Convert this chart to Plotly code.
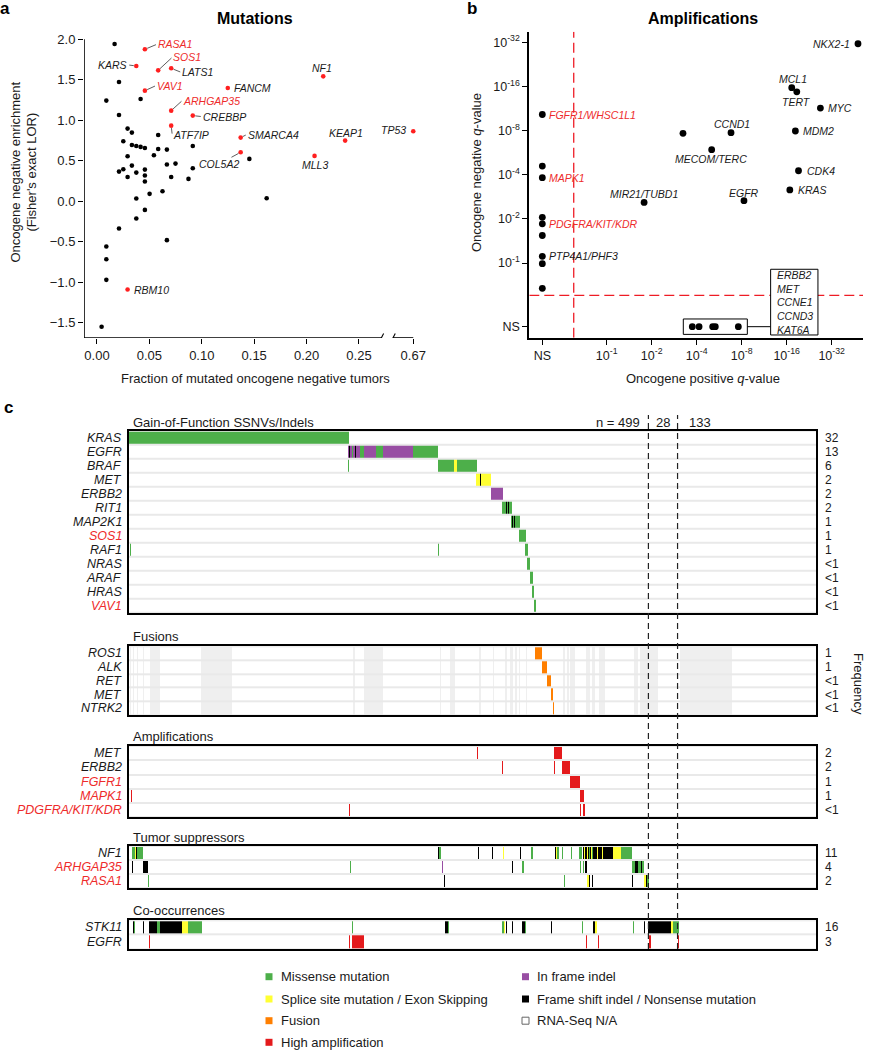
import math
import numpy as np
import plotly.graph_objects as go

W, H = 872, 1050
FONT = "Liberation Sans, Arial, Helvetica, sans-serif"
INK = "#1a1a1a"
RED_TEXT = "#ee2b2b"
RED_DOT = "#ff1f1f"


def fx(p):
    return p / W


def fy(p):
    return 1 - p / H


# ---------------- Panel a: Mutations (data) ----------------
a_genes = ["RASA1", "SOS1", "KARS", "LATS1", "VAV1", "FANCM", "NF1", "ARHGAP35",
           "CREBBP", "ATF7IP", "SMARCA4", "COL5A2", "KEAP1", "MLL3", "TP53", "RBM10"]
a_frac = [0.0457, 0.0584, 0.0375, 0.0708, 0.0457, 0.1248, 0.2159, 0.0708,
          0.0914, 0.0708, 0.1371, 0.1371, 0.2368, 0.2076, 0.67, 0.0292]
a_lor = [1.877, 1.617, 1.671, 1.642, 1.366, 1.399, 1.543, 1.119,
         1.058, 0.934, 0.786, 0.605, 0.749, 0.560, 0.864, -1.091]
a_red_names = ["RASA1", "SOS1", "VAV1", "ARHGAP35"]

a_other_frac = [0.0168, 0.0210, 0.0089, 0.0416, 0.0210, 0.0292, 0.0333, 0.0251, 0.0333, 0.0375,
                0.0416, 0.0457, 0.0584, 0.0584, 0.0667, 0.0914, 0.0292, 0.0543, 0.0210, 0.0251,
                0.0292, 0.0333, 0.0375, 0.0457, 0.0457, 0.0457, 0.0667, 0.0749, 0.0708, 0.0914,
                0.0873, 0.1454, 0.0502, 0.0625, 0.0375, 0.0457, 0.0375, 0.0210, 0.0667, 0.0089,
                0.0089, 0.0089, 0.0044, 0.1619]
a_other_lor = [1.942, 1.473, 1.243, 1.263, 1.066, 0.897, 0.848, 0.741, 0.695, 0.683,
               0.671, 0.658, 0.819, 0.646, 0.638, 0.683, 0.556, 0.568, 0.366, 0.395,
               0.300, 0.440, 0.354, 0.391, 0.317, 0.243, 0.453, 0.465, 0.300, 0.407,
               0.276, 0.523, 0.091, 0.123, 0.033, -0.107, -0.214, -0.337, -0.481, -0.560,
               -0.716, -0.971, -1.551, 0.037]

a_xticks = [0.00, 0.05, 0.10, 0.15, 0.20, 0.25, 0.67]
a_xticklabels = ["0.00", "0.05", "0.10", "0.15", "0.20", "0.25", "0.67"]
a_yticks = [2.0, 1.5, 1.0, 0.5, 0.0, -0.5, -1.0, -1.5]

# ---------------- Panel b: Amplifications (data) ----------------
# -log10(q); None = not significant (NS)
b_genes = ["NKX2-1", "MCL1", "TERT", "MYC", "MDM2", "CDK4", "KRAS", "EGFR", "CCND1",
           "MECOM/TERC", "MIR21/TUBD1", "FGFR1/WHSC1L1", "MAPK1", "PDGFRA/KIT/KDR", "PTP4A1/PHF3",
           "", "", "", "", "", "", "ERBB2", "MET", "CCNE1", "CCND3", "KAT6A"]
b_pos = [48.0, 17.3, 18.7, 26.9, 18.3, 19.2, 16.8, 8.29, 6.79,
         5.04, 1.78, None, None, None, None,
         3.24, None, None, None, None, None, 3.74, 4.15, 5.12, 5.33, 7.6]
b_neg = [31.3, 15.7, 14.7, 11.4, 7.95, 4.26, 3.15, 2.66, 7.74,
         5.93, 2.59, 10.3, 3.82, 1.85, 1.11,
         7.66, 4.58, 2.05, 1.54, 0.99, 0.672, None, None, None, None, None]
b_red_names = ["FGFR1/WHSC1L1", "MAPK1", "PDGFRA/KIT/KDR"]
b_boxed_names = ["ERBB2", "MET", "CCNE1", "CCND3", "KAT6A"]
b_tick_exps = [1, 2, 4, 8, 16, 32]
b_q_threshold = 0.25

# ---------------- Panel c: oncoprint (data) ----------------
group_sizes = [499, 28, 133]
N = sum(group_sizes)

gof_genes = ["KRAS", "EGFR", "BRAF", "MET", "ERBB2", "RIT1", "MAP2K1", "SOS1", "RAF1",
             "NRAS", "ARAF", "HRAS", "VAV1"]
gof_freq = ["32", "13", "6", "2", "2", "2", "1", "1", "1", "<1", "<1", "<1", "<1"]
gof_rows = [
    [(0, 210, "M")],
    [(210, 213, "I"), (211, 211, "T"), (214, 214, "M"), (215, 221, "I"), (217, 217, "T"),
     (222, 225, "M"), (226, 236, "I"), (237, 243, "M"), (244, 272, "I"), (273, 296, "M")],
    [(210, 210, "M"), (297, 311, "M"), (312, 314, "S"), (315, 333, "M")],
    [(333, 347, "S"), (337, 337, "T")],
    [(348, 358, "I")],
    [(358, 367, "M"), (362, 362, "T"), (364, 364, "T")],
    [(367, 375, "M"), (368, 368, "T"), (370, 370, "T")],
    [(375, 380, "M")],
    [(1, 1, "M"), (297, 297, "M"), (380, 382, "M")],
    [(382, 384, "M")],
    [(385, 387, "M")],
    [(387, 388, "M")],
    [(389, 390, "M")],
]

fus_genes = ["ROS1", "ALK", "RET", "MET", "NTRK2"]
fus_freq = ["1", "1", "<1", "<1", "<1"]
fus_rows = [
    [(390, 396, "F")],
    [(397, 401, "F")],
    [(402, 404, "F")],
    [(405, 406, "F")],
    [(407, 407, "F")],
]
rnaseq_na = [(1, 1), (4, 4), (8, 8), (13, 13), (20, 29), (69, 98), (215, 216), (226, 243),
             (299, 299), (308, 312), (336, 337), (350, 350), (361, 362), (366, 368), (371, 372),
             (375, 375), (381, 381), (417, 418), (421, 422), (424, 427), (439, 442), (445, 447),
             (452, 456), (485, 488), (491, 507), (529, 578)]

amp_genes = ["MET", "ERBB2", "FGFR1", "MAPK1", "PDGFRA/KIT/KDR"]
amp_freq = ["2", "2", "1", "1", "<1"]
amp_rows = [
    [(334, 334, "A"), (408, 415, "A")],
    [(358, 358, "A"), (408, 408, "A"), (416, 423, "A")],
    [(424, 432, "A")],
    [(2, 2, "A"), (433, 436, "A")],
    [(211, 211, "A"), (433, 433, "A"), (436, 437, "A")],
]

ts_genes = ["NF1", "ARHGAP35", "RASA1"]
ts_freq = ["11", "4", "2"]
ts_rows = [
    [(3, 5, "M"), (6, 6, "S"), (7, 7, "T"), (8, 12, "M"), (297, 297, "T"), (298, 299, "M"),
     (335, 335, "T"), (349, 349, "T"), (359, 359, "S"), (376, 376, "T"), (386, 387, "M"),
     (409, 409, "T"), (410, 410, "S"), (411, 412, "M"), (416, 416, "M"), (425, 425, "M"),
     (432, 434, "M"), (436, 436, "T"), (437, 437, "S"), (438, 439, "T"), (440, 440, "S"),
     (441, 441, "T"), (442, 442, "M"), (443, 443, "T"), (444, 444, "S"), (445, 445, "M"),
     (446, 449, "T"), (450, 450, "S"), (451, 453, "T"), (454, 454, "S"), (455, 464, "T"),
     (465, 472, "S"), (473, 482, "M")],
    [(3, 3, "T"), (13, 17, "T"), (212, 212, "M"), (301, 301, "I"), (368, 368, "T"),
     (378, 378, "M"), (433, 433, "M"), (436, 436, "M"), (438, 439, "T"), (483, 485, "M"),
     (486, 488, "T"), (489, 491, "M"), (492, 492, "T"), (493, 494, "M")],
    [(18, 18, "M"), (303, 303, "T"), (418, 418, "M"), (440, 441, "S"), (442, 442, "T"),
     (445, 445, "T"), (483, 483, "T"), (495, 496, "S"), (497, 497, "T"), (498, 499, "M")],
]

co_genes = ["STK11", "EGFR"]
co_freq = ["16", "3"]
co_rows = [
    [(4, 4, "T"), (5, 5, "M"), (13, 13, "T"), (19, 26, "T"), (27, 29, "M"), (30, 50, "T"),
     (51, 56, "S"), (57, 69, "M"), (214, 214, "M"), (304, 305, "T"), (306, 306, "M"),
     (358, 359, "M"), (360, 360, "S"), (362, 362, "T"), (368, 368, "T"), (378, 379, "T"),
     (380, 380, "M"), (405, 405, "T"), (435, 435, "M"), (446, 447, "T"), (448, 449, "S"),
     (484, 484, "M"), (495, 495, "T"), (499, 499, "T"), (500, 520, "T"), (521, 522, "S"),
     (523, 527, "M")],
    [(19, 19, "A"), (211, 211, "A"), (214, 225, "A"), (439, 439, "A"), (451, 451, "A"),
     (500, 500, "A"), (527, 527, "A")],
]

red_genes_c = ["SOS1", "VAV1", "FGFR1", "MAPK1", "PDGFRA/KIT/KDR", "ARHGAP35", "RASA1"]

alt_codes = {"": 0, "N": 1, "M": 2, "S": 3, "F": 4, "A": 5, "I": 6, "T": 7}
alt_colors = ["#ffffff", "#efefef", "#4daf4a", "#ffff33", "#ff7f00", "#e41a1c", "#984ea3", "#000000"]

legend_labels = ["Missense mutation", "Splice site mutation / Exon Skipping", "Fusion",
                 "High amplification", "In frame indel", "Frame shift indel / Nonsense mutation",
                 "RNA-Seq N/A"]
legend_codes = ["M", "S", "F", "A", "I", "T", "N"]

# ====================================================================
fig = go.Figure()
annotations = []
shapes = []

# ---------------- Panel a ----------------
A_BREAK_LO, A_BREAK_HI, A_BREAK_POS = 0.27, 0.67, 0.3018


def a_x(v):
    return v if v < A_BREAK_LO else A_BREAK_POS + (v - A_BREAK_HI)


fig.add_trace(go.Scatter(x=[a_x(v) for v in a_other_frac], y=a_other_lor, mode="markers",
                         marker=dict(size=4.6, color="black"), xaxis="x", yaxis="y",
                         hoverinfo="skip"))
fig.add_trace(go.Scatter(x=[a_x(v) for v in a_frac], y=a_lor, mode="markers",
                         marker=dict(size=4.6, color=RED_DOT), xaxis="x", yaxis="y",
                         text=a_genes, hoverinfo="text"))

# label placement: (dx px, dy px (down +), xanchor, leader line)
a_label_pos = {
    "RASA1": (12, -5, "left", True),
    "SOS1": (14, -13, "left", True),
    "KARS": (-8, -1, "right", True),
    "LATS1": (10, 4, "left", True),
    "VAV1": (11, -5, "left", True),
    "FANCM": (4, 0, "left", False),
    "NF1": (-1, -8, "center", False),
    "ARHGAP35": (11, -10, "left", True),
    "CREBBP": (9, 1, "left", True),
    "ATF7IP": (1, 9, "left", True),
    "SMARCA4": (6, -3, "left", True),
    "COL5A2": (-22, 12, "center", True),
    "KEAP1": (1, -8, "center", False),
    "MLL3": (0, 9, "center", False),
    "TP53": (-5, -1, "right", False),
    "RBM10": (4, 0, "left", False),
}
for g, fr, lo in zip(a_genes, a_frac, a_lor):
    dx, dy, xa, leader = a_label_pos[g]
    col = RED_TEXT if g in a_red_names else INK
    font = dict(family=FONT, size=10.5, color=col)
    if leader:
        annotations.append(dict(x=a_x(fr), y=lo, xref="x", yref="y", text="<i>%s</i>" % g,
                                showarrow=True, ax=dx, ay=dy, xanchor=xa, yanchor="middle",
                                arrowhead=0, arrowwidth=0.8, arrowcolor="#333333",
                                standoff=2.5, startstandoff=1, font=font, borderpad=0))
    else:
        annotations.append(dict(x=a_x(fr), y=lo, xref="x", yref="y", text="<i>%s</i>" % g,
                                showarrow=False, xshift=dx, yshift=-dy, xanchor=xa,
                                yanchor="middle", font=font))

A_X0, A_X1 = -0.0124, 0.313
A_Y0, A_Y1 = -1.6895, 2.1153
axis_common = dict(showgrid=False, zeroline=False, ticks="outside", ticklen=5, tickwidth=1,
                   tickcolor="black", tickfont=dict(family=FONT, size=13, color=INK),
                   fixedrange=True)
fig.update_layout(
    xaxis=dict(domain=[fx(84), fx(425)], range=[A_X0, A_X1], anchor="y",
               tickvals=[a_x(v) for v in a_xticks], ticktext=a_xticklabels, showline=False,
               **axis_common),
    yaxis=dict(domain=[fy(338), fy(30)], range=[A_Y0, A_Y1], anchor="x",
               tickvals=a_yticks,
               ticktext=[("%.1f" % v).replace("-", "\u2212") for v in a_yticks],
               showline=False, **axis_common),
)
# axis lines with break
lw = 1.6
shapes.append(dict(type="line", xref="x", yref="y", x0=A_X0, x1=A_X0, y0=A_Y0, y1=2.0,
                   line=dict(color="black", width=lw)))
b1, b2 = 0.2713, 0.2824
shapes.append(dict(type="line", xref="x", yref="y", x0=A_X0, x1=b1, y0=A_Y0, y1=A_Y0,
                   line=dict(color="black", width=lw)))
shapes.append(dict(type="line", xref="x", yref="y", x0=b2, x1=a_x(0.67), y0=A_Y0, y1=A_Y0,
                   line=dict(color="black", width=lw)))
for bx in (b1, b2):
    shapes.append(dict(type="line", xref="x", yref="y", x0=bx - 0.0022, x1=bx + 0.0022,
                       y0=A_Y0 - 0.055, y1=A_Y0 + 0.055, line=dict(color="black", width=1.1)))

annotations += [
    dict(x=fx(5), y=fy(9), xref="paper", yref="paper", text="<b>a</b>", showarrow=False,
         xanchor="center", yanchor="middle", font=dict(family=FONT, size=17, color="black")),
    dict(x=fx(255), y=fy(19), xref="paper", yref="paper", text="<b>Mutations</b>",
         showarrow=False, xanchor="center", yanchor="middle",
         font=dict(family=FONT, size=16, color="black")),
    dict(x=fx(255), y=fy(379), xref="paper", yref="paper",
         text="Fraction of mutated oncogene negative tumors", showarrow=False,
         xanchor="center", yanchor="middle", font=dict(family=FONT, size=13, color=INK)),
    dict(x=fx(23.5), y=fy(172), xref="paper", yref="paper",
         text="Oncogene negative enrichment<br>(Fisher's exact LOR)", showarrow=False,
         textangle=-90, xanchor="center", yanchor="middle",
         font=dict(family=FONT, size=13, color=INK)),
]

# ---------------- Panel b ----------------
B_NS_X, B_NS_Y = -1.43, -1.443


def b_t(v, ns):
    return ns if v is None else math.log2(v)


bx_vals = [b_t(v, B_NS_X) for v in b_pos]
by_vals = [b_t(v, B_NS_Y) for v in b_neg]
fig.add_trace(go.Scatter(x=bx_vals, y=by_vals, mode="markers",
                         marker=dict(size=6.8, color="black"), xaxis="x2", yaxis="y2",
                         text=b_genes, hoverinfo="text", cliponaxis=False))

b_label_pos = {
    "NKX2-1": (-6, 0, "right"), "MCL1": (1, 8.3, "center"), "TERT": (0, -10, "center"),
    "MYC": (6, 0, "left"), "MDM2": (6, 0, "left"), "CDK4": (6, 0, "left"),
    "KRAS": (6, 0, "left"), "EGFR": (0, 8, "center"), "CCND1": (1, 8.3, "center"),
    "MECOM/TERC": (-1, -9.7, "center"), "MIR21/TUBD1": (0, 8.3, "center"),
    "FGFR1/WHSC1L1": (5, 0, "left"), "MAPK1": (5, 0, "left"),
    "PDGFRA/KIT/KDR": (5, 0, "left"), "PTP4A1/PHF3": (5, 0, "left"),
}
for g, xv, yv in zip(b_genes, bx_vals, by_vals):
    if g in b_label_pos:
        dx, dy, xa = b_label_pos[g]
        col = RED_TEXT if g in b_red_names else INK
        annotations.append(dict(x=xv, y=yv, xref="x2", yref="y2", text="<i>%s</i>" % g,
                                showarrow=False, xshift=dx, yshift=dy, xanchor=xa,
                                yanchor="middle", font=dict(family=FONT, size=10.5, color=col)))

B_X0, B_X1 = -1.7193, 5.6963
B_Y0, B_Y1 = -1.6927, 5.2413
b_ticks = [math.log2(e) for e in b_tick_exps]
b_ticktext = ["10<sup>-%d</sup>" % e for e in b_tick_exps]
b_axis = dict(axis_common)
b_axis["tickfont"] = dict(family=FONT, size=12.5, color=INK)
fig.update_layout(
    xaxis2=dict(domain=[fx(529.3), fx(863)], range=[B_X0, B_X1], anchor="y2",
                tickvals=[B_NS_X] + b_ticks, ticktext=["NS"] + b_ticktext,
                showline=True, linecolor="black", linewidth=2, **b_axis),
    yaxis2=dict(domain=[fy(337.7), fy(31.7)], range=[B_Y0, B_Y1], anchor="x2",
                tickvals=[B_NS_Y] + b_ticks, ticktext=["NS"] + b_ticktext,
                showline=True, linecolor="black", linewidth=2, **b_axis),
)
thr = math.log2(-math.log10(b_q_threshold))
shapes.append(dict(type="line", xref="x2", yref="y2", x0=thr, x1=thr, y0=B_Y0, y1=B_Y1,
                   line=dict(color="#ee1c25", width=1.3, dash="10px,5px")))
shapes.append(dict(type="line", xref="x2", yref="y2", x0=B_X0, x1=B_X1, y0=thr, y1=thr,
                   line=dict(color="#ee1c25", width=1.3, dash="10px,5px")))

# box around NS-row points + label box
ns_row_x = [x for x, g in zip(bx_vals, b_genes) if g in b_boxed_names]
pad_x = 9 / 45.0
pad_y = 7.7 / 44.13
bx_lo, bx_hi = min(ns_row_x) - pad_x, max(ns_row_x) + pad_x
shapes.append(dict(type="rect", xref="x2", yref="y2", x0=bx_lo, x1=bx_hi,
                   y0=B_NS_Y - pad_y, y1=B_NS_Y + pad_y, line=dict(color="black", width=1)))
lab_x0 = bx_hi + 23.3 / 45.0
lab_x1 = lab_x0 + 47.3 / 45.0
lab_y0 = B_NS_Y - 8.3 / 44.13
lab_y1 = lab_y0 + 65.7 / 44.13
shapes.append(dict(type="line", xref="x2", yref="y2", x0=bx_hi, x1=lab_x0, y0=B_NS_Y,
                   y1=B_NS_Y, line=dict(color="black", width=1)))
shapes.append(dict(type="rect", xref="x2", yref="y2", x0=lab_x0, x1=lab_x1, y0=lab_y0,
                   y1=lab_y1, line=dict(color="black", width=1), fillcolor="white"))
annotations.append(dict(x=lab_x0, y=(lab_y0 + lab_y1) / 2, xref="x2", yref="y2",
                        text="<br>".join("<i>%s</i>" % g for g in b_boxed_names),
                        showarrow=False, xanchor="left", yanchor="middle", xshift=4,
                        align="left", font=dict(family=FONT, size=10.5, color=INK)))

annotations += [
    dict(x=fx(472), y=fy(8), xref="paper", yref="paper", text="<b>b</b>", showarrow=False,
         xanchor="center", yanchor="middle", font=dict(family=FONT, size=17, color="black")),
    dict(x=fx(703), y=fy(19), xref="paper", yref="paper", text="<b>Amplifications</b>",
         showarrow=False, xanchor="center", yanchor="middle",
         font=dict(family=FONT, size=16, color="black")),
    dict(x=fx(703), y=fy(379), xref="paper", yref="paper",
         text="Oncogene positive <i>q</i>-value", showarrow=False,
         xanchor="center", yanchor="middle", font=dict(family=FONT, size=13, color=INK)),
    dict(x=fx(476), y=fy(172), xref="paper", yref="paper",
         text="Oncogene negative <i>q</i>-value", showarrow=False, textangle=-90,
         xanchor="center", yanchor="middle", font=dict(family=FONT, size=13, color=INK)),
]

# ---------------- Panel c ----------------
blocks = [
    dict(title="Gain-of-Function SSNVs/Indels", genes=gof_genes, rows=gof_rows, freq=gof_freq,
         top=430.7, bottom=613.0, title_y=422.7, na=None),
    dict(title="Fusions", genes=fus_genes, rows=fus_rows, freq=fus_freq,
         top=646.3, bottom=715.3, title_y=636.3, na=rnaseq_na),
    dict(title="Amplifications", genes=amp_genes, rows=amp_rows, freq=amp_freq,
         top=746.0, bottom=817.3, title_y=736.7, na=None),
    dict(title="Tumor suppressors", genes=ts_genes, rows=ts_rows, freq=ts_freq,
         top=846.0, bottom=888.3, title_y=837.7, na=None),
    dict(title="Co-occurrences", genes=co_genes, rows=co_rows, freq=co_freq,
         top=920.3, bottom=949.0, title_y=910.7, na=None),
]

ncode = len(alt_colors)
colorscale = []
for k, c in enumerate(alt_colors):
    colorscale.append([k / ncode, c])
    colorscale.append([(k + 1) / ncode, c])

for i, blk in enumerate(blocks):
    k = i + 3
    nr = len(blk["genes"])
    z = np.zeros((nr, N))
    if blk["na"]:
        for s, e in blk["na"]:
            z[:, s:e + 1] = alt_codes["N"]
    for r, segs in enumerate(blk["rows"]):
        for s, e, t in segs:
            z[r, s:e + 1] = alt_codes[t]
    fig.add_trace(go.Heatmap(z=z, x=np.arange(N), y=np.arange(nr), zmin=-0.5,
                             zmax=ncode - 0.5, colorscale=colorscale, showscale=False,
                             ygap=2, hoverinfo="skip", xaxis="x%d" % k, yaxis="y%d" % k))
    fig.layout["xaxis%d" % k] = dict(domain=[fx(129), fx(816)], range=[-0.5, N - 0.5],
                                     anchor="y%d" % k, showline=True, mirror=True,
                                     linecolor="black", linewidth=2, ticks="",
                                     showticklabels=False, showgrid=False, zeroline=False,
                                     fixedrange=True)
    fig.layout["yaxis%d" % k] = dict(domain=[fy(blk["bottom"]), fy(blk["top"])],
                                     range=[nr - 0.5, -0.5], anchor="x%d" % k, showline=True,
                                     mirror=True, linecolor="black", linewidth=2, ticks="",
                                     showticklabels=False, showgrid=False, zeroline=False,
                                     fixedrange=True)
    shapes.append(dict(type="rect", xref="x%d domain" % k, yref="y%d domain" % k, x0=0, x1=1,
                       y0=0, y1=1, fillcolor="#e9e9e9", line=dict(width=0), layer="below"))
    annotations.append(dict(x=fx(131), y=fy(blk["title_y"]), xref="paper", yref="paper",
                            text=blk["title"], showarrow=False, xanchor="left",
                            yanchor="middle", font=dict(family=FONT, size=13, color=INK)))
    for r, (g, f) in enumerate(zip(blk["genes"], blk["freq"])):
        col = RED_TEXT if g in red_genes_c else INK
        annotations.append(dict(x=fx(124), y=r, xref="paper", yref="y%d" % k,
                                text="<i>%s</i>" % g, showarrow=False, xanchor="right",
                                yanchor="middle", font=dict(family=FONT, size=12.5, color=col)))
        annotations.append(dict(x=fx(823), y=r, xref="paper", yref="y%d" % k,
                                text=f.replace("<", "&lt;"), showarrow=False, xanchor="left",
                                yanchor="middle", font=dict(family=FONT, size=12, color=INK)))

# group boundaries (dashed) and counts
bounds = np.cumsum(group_sizes)[:-1] - 0.5
for bx_ in bounds:
    shapes.append(dict(type="line", xref="x3", yref="paper", x0=bx_, x1=bx_, y0=fy(949),
                       y1=fy(415), line=dict(color="#222222", width=1.2, dash="6px,4px")))
ty = fy(422.7)
annotations += [
    dict(x=bounds[0], y=ty, xref="x3", yref="paper", text="n = %d" % group_sizes[0],
         showarrow=False, xanchor="right", yanchor="middle", xshift=-6,
         font=dict(family=FONT, size=13, color=INK)),
    dict(x=(bounds[0] + bounds[1]) / 2, y=ty, xref="x3", yref="paper",
         text="%d" % group_sizes[1], showarrow=False, xanchor="center", yanchor="middle",
         font=dict(family=FONT, size=13, color=INK)),
    dict(x=bounds[1], y=ty, xref="x3", yref="paper", text="%d" % group_sizes[2],
         showarrow=False, xanchor="left", yanchor="middle", xshift=9,
         font=dict(family=FONT, size=13, color=INK)),
    dict(x=fx(859), y=fy(684), xref="paper", yref="paper", text="Frequency", textangle=90,
         showarrow=False, xanchor="center", yanchor="middle",
         font=dict(family=FONT, size=13, color=INK)),
    dict(x=fx(8), y=fy(407), xref="paper", yref="paper", text="<b>c</b>", showarrow=False,
         xanchor="center", yanchor="middle", font=dict(family=FONT, size=17, color="black")),
]

# legend (manual, two columns)
leg_rows_y = [976.7, 999.0, 1020.7, 1042.3]
leg_cols = [(265.5, 279), (522, 535)]
for idx, (lab, code) in enumerate(zip(legend_labels, legend_codes)):
    col_i = 0 if idx < 4 else 1
    row_i = idx if idx < 4 else idx - 4
    sx, tx = leg_cols[col_i]
    yc = leg_rows_y[row_i]
    fill = alt_colors[alt_codes[code]]
    if code == "N":
        fill = "white"
        line = dict(color="#666666", width=1)
    else:
        line = dict(width=0)
    shapes.append(dict(type="rect", xref="paper", yref="paper", x0=fx(sx), x1=fx(sx + 7),
                       y0=fy(yc + 3.5), y1=fy(yc - 3.5), fillcolor=fill, line=line))
    annotations.append(dict(x=fx(tx), y=fy(yc), xref="paper", yref="paper", text=lab,
                            showarrow=False, xanchor="left", yanchor="middle",
                            font=dict(family=FONT, size=13, color=INK)))

fig.update_layout(width=W, height=H, margin=dict(l=0, r=0, t=0, b=0),
                  paper_bgcolor="white", plot_bgcolor="white", showlegend=False,
                  font=dict(family=FONT, size=13, color=INK),
                  annotations=annotations, shapes=shapes)

fig.write_html("out.html", config={"displayModeBar": False, "staticPlot": False},
               post_script="document.body.style.margin='0';document.body.style.padding='0';"
                           "document.body.style.overflow='hidden';")
